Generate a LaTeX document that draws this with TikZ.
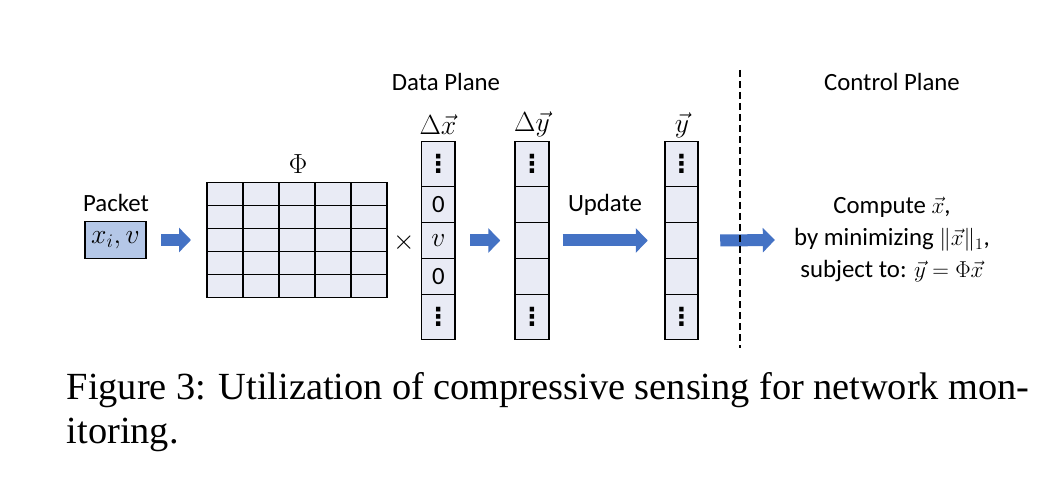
\documentclass[tikz,border=0pt]{standalone}
\usepackage{fontspec}
\setmainfont{Carlito}
\newfontfamily\capserif{Liberation Serif}
\newfontfamily\symfont{DejaVu Sans}
\usetikzlibrary{arrows.meta,calc}
\definecolor{arrowblue}{HTML}{4472C4}
\definecolor{packfill}{HTML}{B4C7E7}
\definecolor{cellfill}{HTML}{E9EBF5}
\newcommand{\mydots}{{\symfont\bfseries ⋮}}
\begin{document}
\begin{tikzpicture}[x=0.75pt,y=-0.75pt,
  lbl/.style={font=\fontsize{18.6}{22}\selectfont, inner sep=0pt},
  mlbl/.style={font=\fontsize{21}{24}\selectfont, inner sep=0pt},
  cell/.style={draw=black, fill=cellfill, line width=1.2pt, minimum width=25.1pt, inner sep=0pt, outer sep=0pt, font=\fontsize{18.6}{22}\selectfont},
  tallcell/.style={cell, minimum height=33.75pt},
  midcell/.style={cell, minimum height=27pt},
  blockarrow/.style={draw=arrowblue, line width=9pt, -{Triangle[length=9pt,width=18pt]}},
  divider/.style={line width=1.2pt, dash pattern=on 5.25pt off 3pt}
]
\useasboundingbox (0,0) rectangle (1057,481);

% plane titles
\node[lbl] (dplane) at (446,82) {Data Plane};
\node[lbl] (cplane) at (892,82) {Control Plane};

% packet
\node[lbl] (pklabel) at (116,203) {Packet};
\node[draw=black, fill=packfill, line width=1.2pt, minimum width=45.75pt, minimum height=27.75pt, inner sep=0pt, outer sep=0pt, font=\fontsize{21}{24}\selectfont] (pk) at (115.5,240) {$x_i, v$};

% matrix Phi
\node[draw=black, fill=cellfill, line width=1.2pt, minimum width=135pt, minimum height=86.25pt, inner sep=0pt, outer sep=0pt] (grid) at (297,240) {};
\foreach \i in {1,...,4} {
  \draw[line width=1.2pt] ($(grid.north west)+(36*\i,0)$) -- ($(grid.south west)+(36*\i,0)$);
  \draw[line width=1.2pt] ($(grid.north west)+(0,23*\i)$) -- ($(grid.north east)+(0,23*\i)$);
}
\node[mlbl] (philbl) at (298,164) {$\Phi$};
\node[mlbl] (times) at (404,243) {$\times$};

% Delta x column
\node[tallcell] (dx1) at (438.3,164) {\mydots};
\node[midcell] (dx2) at (438.3,204.5) {0};
\node[midcell, font=\fontsize{21}{24}\selectfont] (dx3) at (438.3,240.5) {$v$};
\node[midcell] (dx4) at (438.3,276.5) {0};
\node[tallcell] (dx5) at (438.3,317) {\mydots};
\node[mlbl] (dxl) at (438,125) {$\Delta\vec{x}$};

% Delta y column
\node[tallcell] (dy1) at (532,164) {\mydots};
\node[midcell] (dy2) at (532,204.5) {};
\node[midcell] (dy3) at (532,240.5) {};
\node[midcell] (dy4) at (532,276.5) {};
\node[tallcell] (dy5) at (532,317) {\mydots};
\node[mlbl] (dyl) at (532,124) {$\Delta\vec{y}$};

% y column
\node[tallcell] (y1) at (681.5,164) {\mydots};
\node[midcell] (y2) at (681.5,204.5) {};
\node[midcell] (y3) at (681.5,240.5) {};
\node[midcell] (y4) at (681.5,276.5) {};
\node[tallcell] (y5) at (681.5,317) {\mydots};
\node[mlbl] (yl) at (682,125) {$\vec{y}$};

\node[lbl] (upd) at (605,205) {Update};

% control plane text
\node[align=center, font=\fontsize{18.6}{24}\selectfont, inner sep=0pt] (ctrl) at (892,240)
  {Compute $\vec{x}$,\\ by minimizing $\|\vec{x}\|_1$,\\ subject to: $\vec{y}=\Phi\vec{x}$};

% block arrows
\draw[blockarrow] ($(pk.east)+(15,0)$) -- ($(grid.west)+(-16,0)$);
\draw[blockarrow] ($(dx3.east)+(15,0)$) -- ($(dy3.west)+(-15,0)$);
\draw[blockarrow] ($(dy3.east)+(14,0)$) -- ($(y3.west)+(-17,0)$);
\draw[blockarrow] ($(y3.east)+(22,0)$) -- ($(ctrl.west)+(-19,0)$);

% divider between planes
\coordinate (divtop) at (740,70);
\coordinate (divbot) at (740,348);
\draw[divider] (divtop) -- (divbot);

% caption
\node[anchor=base west, inner sep=0pt, font=\capserif\fontsize{28.8}{33}\selectfont] (cap1) at (66.5,399)
  {\makebox[722pt][s]{Figure 3: Utilization of compressive sensing for network mon-}};
\node[anchor=base west, inner sep=0pt, font=\capserif\fontsize{28.8}{33}\selectfont] (cap2) at (66.5,443) {itoring.};
\end{tikzpicture}
\end{document}
